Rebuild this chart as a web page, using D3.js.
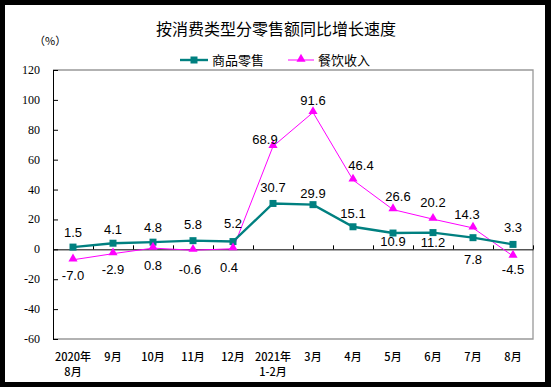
<!DOCTYPE html>
<html>
<head>
<meta charset="utf-8">
<script src="https://cdn.jsdelivr.net/npm/d3@7"></script>
<style>
	body { margin: 0; background: #000; }
	svg { display: block; }
</style>
</head>
<body>
<svg width="551" height="387"></svg>
<script>
// categories, two lines per label
var months = [["2020年", "8月"], ["9月"], ["10月"], ["11月"], ["12月"], ["2021年", "1-2月"], ["3月"], ["4月"], ["5月"], ["6月"], ["7月"], ["8月"]];
var goodsRetail = [1.5, 4.1, 4.8, 5.8, 5.2, 30.7, 29.9, 15.1, 10.9, 11.2, 7.8, 3.3];
var catering = [-7.0, -2.9, 0.8, -0.6, 0.4, 68.9, 91.6, 46.4, 26.6, 20.2, 14.3, -4.5];
var yTicks = [120, 100, 80, 60, 40, 20, 0, -20, -40, -60];
var seriesNames = ["商品零售", "餐饮收入"];

// label placement (dx, dy from point)
var goodsLabelPos = [[0,-10],[0,-9],[0,-10],[0,-12],[0,-14],[0,-11],[0,-7],[0,-9],[0,13],[0,14],[0,26],[0,-12]];
var cateringLabelPos = [[0,20],[0,20],[0,22],[-3,24],[-4,23],[-8,-2],[0,-7],[8,-10],[5,-9],[0,-12],[-6,-9],[0,18]];

var init = function(){
	var svg = d3.select('svg');
	// white page inside black frame
	svg.append('rect').attr('x', 5).attr('y', 5).attr('width', 540).attr('height', 377).attr('fill', '#fff');

	var left = 53, right = 533, top = 70, bottom = 339;

	var x = d3.scaleBand().domain(d3.range(months.length)).range([left, right]);
	var y = d3.scaleLinear().domain([-60, 120]).range([bottom, top]);

	svg.append('text')
		.attr('x', 276).attr('y', 35)
		.attr('text-anchor', 'middle')
		.style('font-family', '"Noto Sans CJK SC"').style('font-size', '16px')
		.text('按消费类型分零售额同比增长速度');

	svg.append('text')
		.attr('x', 34).attr('y', 45)
		.style('font-family', '"Noto Sans CJK SC"').style('font-size', '11px')
		.text('（%）');

	// frame of plot
	svg.append('path')
		.attr('d', 'M' + left + ',' + top + 'H' + right + 'V' + bottom + 'H' + left)
		.attr('fill', 'none').attr('stroke', '#999').attr('stroke-width', 1.3);

	// y axis, ticks pointing inside
	var yAxis = d3.axisRight(y).tickValues(yTicks).tickSize(5).tickFormat('');
	svg.append('g').attr('transform', 'translate(' + left + ',0)').call(yAxis)
		.call(function(g){ g.selectAll('line, path').attr('stroke', '#000'); });

	svg.selectAll('.ylab').data(yTicks).enter().append('text')
		.attr('x', 40).attr('y', function(d){ return y(d) + 4; })
		.attr('text-anchor', 'end')
		.style('font-family', '"Liberation Serif"').style('font-size', '12px')
		.text(function(d){ return d; });

	// zero line with ticks up at category boundaries
	var bounds = d3.range(1, months.length + 1).map(function(i){ return left + i * x.step(); });
	var xAxis = d3.axisTop(d3.scaleLinear().domain([left, right]).range([left, right]))
		.tickValues(bounds).tickSize(4).tickSizeOuter(0).tickFormat('');
	svg.append('g').attr('transform', 'translate(0,' + y(0) + ')').call(xAxis)
		.call(function(g){ g.selectAll('line, path').attr('stroke', '#000'); });

	// category labels
	var xl = svg.selectAll('.xlab').data(months).enter().append('text')
		.attr('text-anchor', 'middle')
		.style('font-family', '"Noto Sans CJK SC"').style('font-size', '11px').style('font-weight', '500')
		.attr('transform', function(d, i){ return 'translate(' + (x(i) + x.bandwidth()/2) + ',361)'; });
	xl.selectAll('tspan').data(function(d){ return d; }).enter().append('tspan')
		.attr('x', 0).attr('y', function(d, j){ return j * 15; })
		.text(function(d){ return d; });

	var cx = function(d, i){ return x(i) + x.bandwidth()/2; };
	var line = d3.line().x(cx).y(function(d){ return y(d); });

	// catering line (magenta)
	svg.append('path').datum(catering).attr('d', line)
		.attr('fill', 'none').attr('stroke', '#ff00ff').attr('stroke-width', 1);
	// goods line (teal)
	svg.append('path').datum(goodsRetail).attr('d', line)
		.attr('fill', 'none').attr('stroke', '#008080').attr('stroke-width', 2.4);

	svg.selectAll('.sq').data(goodsRetail).enter().append('rect')
		.attr('x', function(d, i){ return cx(d, i) - 3.5; })
		.attr('y', function(d){ return y(d) - 3.5; })
		.attr('width', 7).attr('height', 7).attr('fill', '#008080');

	var tri = d3.symbol().type(d3.symbolTriangle).size(36);
	svg.selectAll('.tri').data(catering).enter().append('path')
		.attr('d', tri).attr('fill', '#ff00ff')
		.attr('transform', function(d, i){ return 'translate(' + cx(d, i) + ',' + (y(d) - 1) + ')'; });

	var addLabels = function(data, pos){
		svg.selectAll(null).data(data).enter().append('text')
			.attr('x', function(d, i){ return cx(d, i) + pos[i][0]; })
			.attr('y', function(d, i){ return y(d) + pos[i][1]; })
			.attr('text-anchor', 'middle')
			.style('font-family', '"Liberation Sans"').style('font-size', '13px')
			.text(function(d){ return d.toFixed(1); });
	};
	addLabels(goodsRetail, goodsLabelPos);
	addLabels(catering, cateringLabelPos);

	// legend
	var lg = svg.append('g');
	lg.append('line').attr('x1', 180).attr('x2', 208).attr('y1', 60).attr('y2', 60)
		.attr('stroke', '#008080').attr('stroke-width', 2.4);
	lg.append('rect').attr('x', 190.5).attr('y', 56.5).attr('width', 7).attr('height', 7).attr('fill', '#008080');
	lg.append('line').attr('x1', 288).attr('x2', 314).attr('y1', 60).attr('y2', 60)
		.attr('stroke', '#ff00ff').attr('stroke-width', 1);
	lg.append('path').attr('d', tri).attr('fill', '#ff00ff').attr('transform', 'translate(301,59)');
	lg.selectAll('text').data(seriesNames).enter().append('text')
		.attr('x', function(d, i){ return i ? 318 : 212; }).attr('y', 65)
		.style('font-family', '"Noto Sans CJK SC"').style('font-size', '13px')
		.text(function(d){ return d; });
};

init();
</script>
</body>
</html>
